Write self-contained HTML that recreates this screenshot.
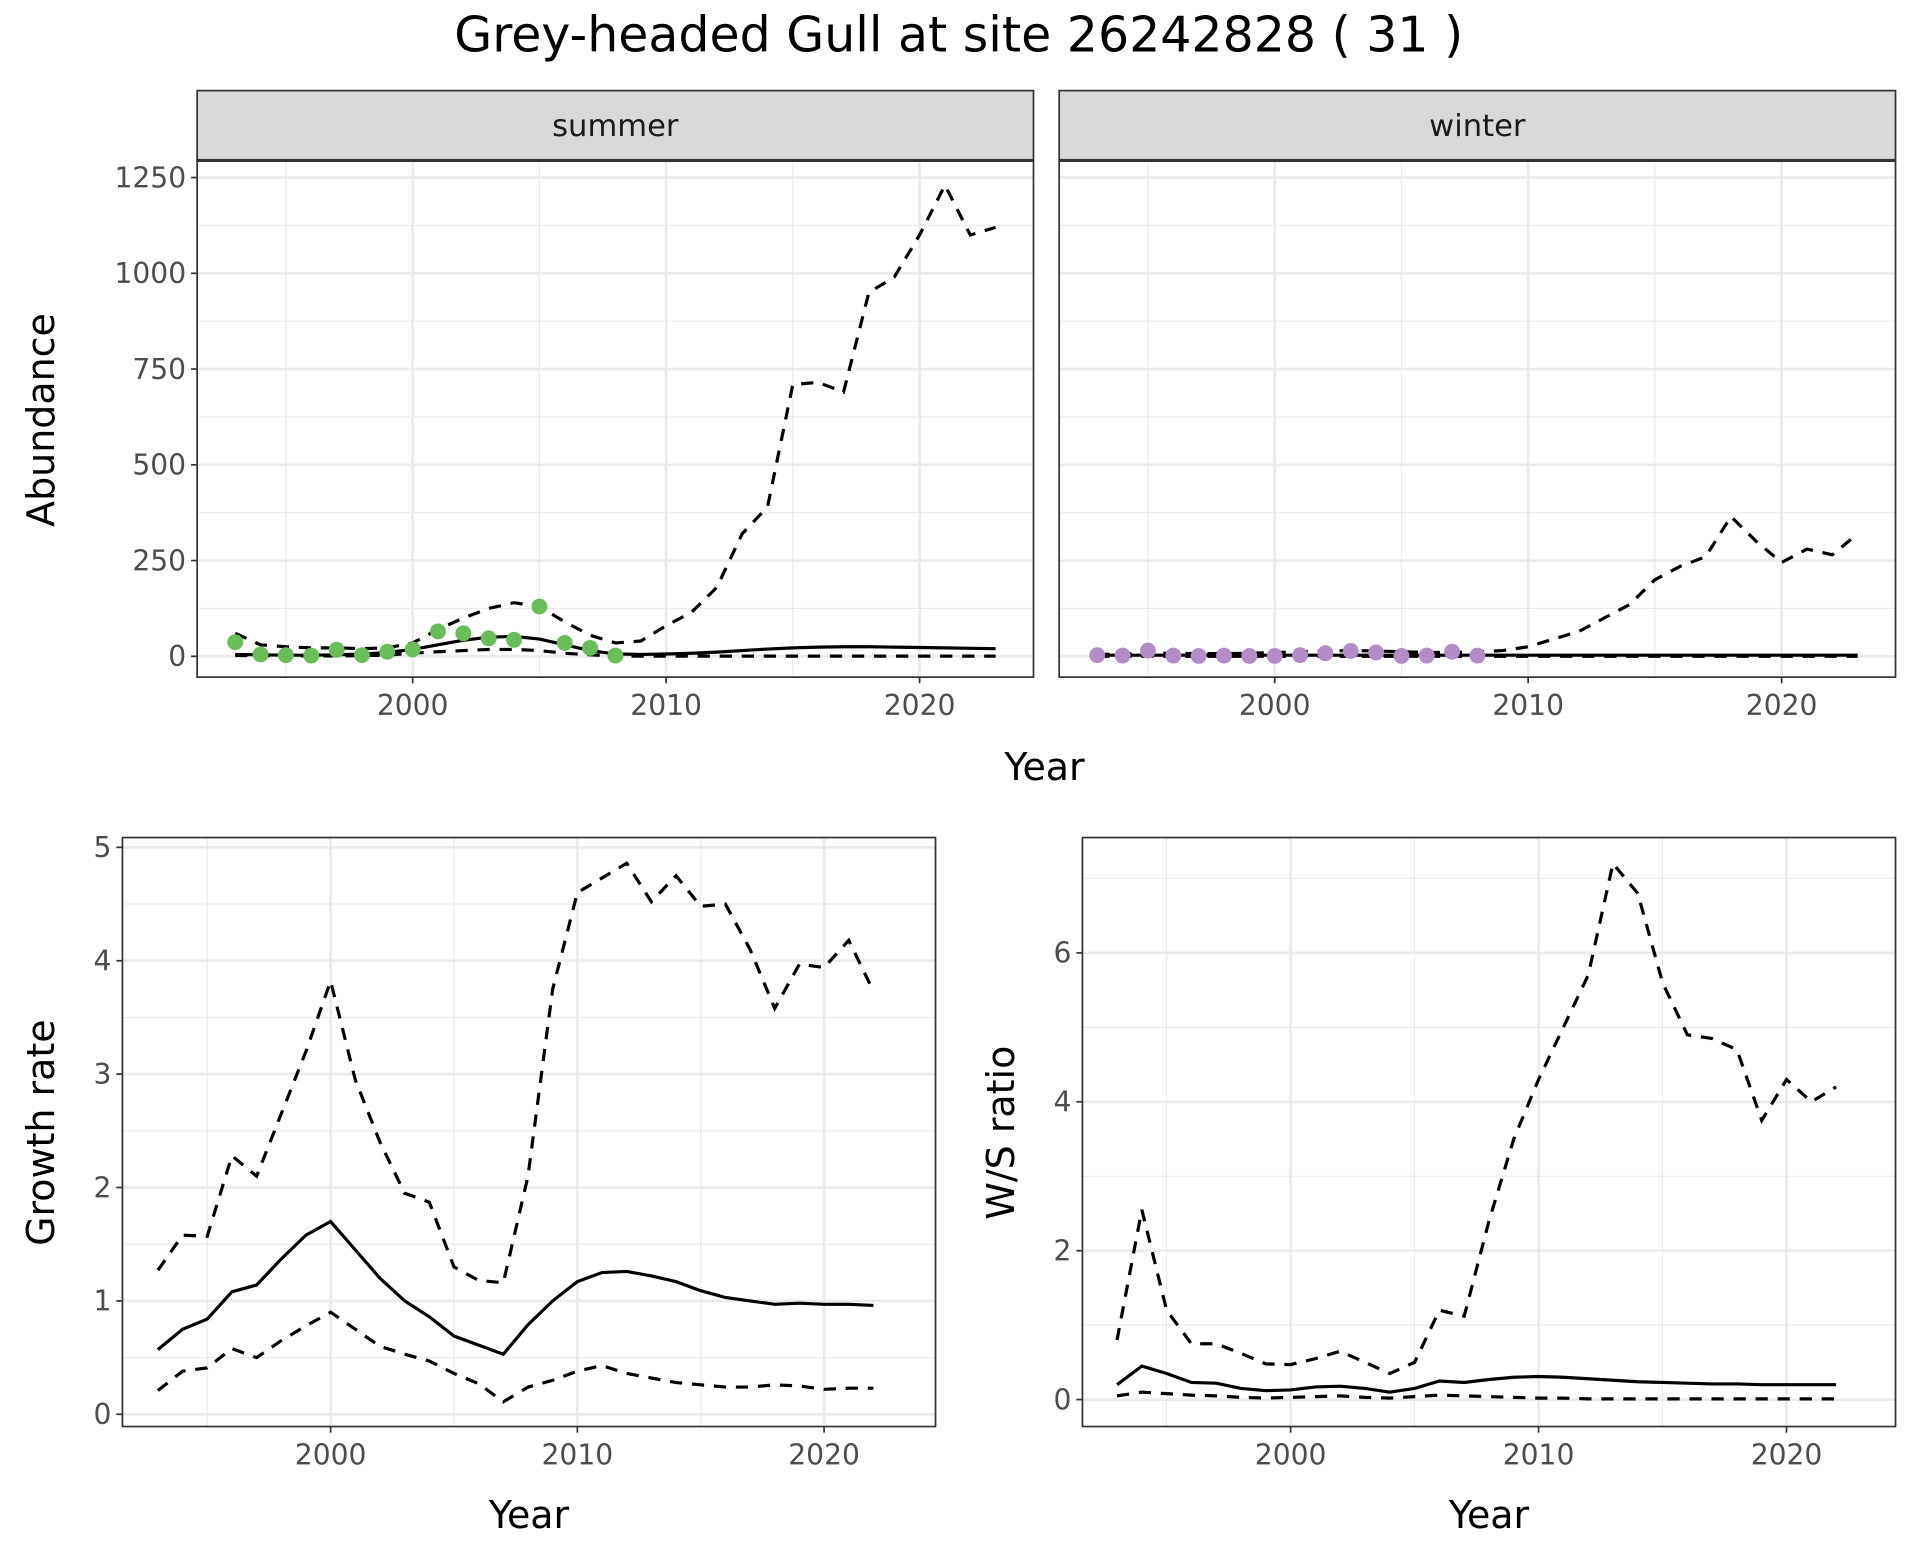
<!DOCTYPE html>
<html><head><meta charset="utf-8"><style>
html,body{margin:0;padding:0;background:#fff;}
svg{display:block;font-family:"DejaVu Sans","Liberation Sans",sans-serif;}
</style></head><body>
<svg id="fig" width="1920" height="1560" viewBox="0 0 1568 1274" preserveAspectRatio="none" xmlns="http://www.w3.org/2000/svg">
<text x="783" y="42" font-size="40" text-anchor="middle" fill="#000">Grey-headed Gull at site 26242828 ( 31 )</text>
</svg>
<script>
const years31 = [1993,1994,1995,1996,1997,1998,1999,2000,2001,2002,2003,2004,2005,2006,2007,2008,2009,2010,2011,2012,2013,2014,2015,2016,2017,2018,2019,2020,2021,2022,2023];
const obsYears = [1993,1994,1995,1996,1997,1998,1999,2000,2001,2002,2003,2004,2005,2006,2007,2008];
const summerObs = [37,5,3,2,17,3,12,18,65,60,47,43,130,35,22,2];
const summerMid = [5,4,3,3,4,6,10,18,30,42,50,52,45,30,15,6,5,6,8,11,15,19,22,24,25,25,24,23,22,21,20];
const summerHi = [60,30,25,22,22,20,22,35,70,100,125,140,130,90,55,35,40,80,115,180,320,390,710,715,690,950,990,1100,1230,1100,1120];
const summerLo = [2,2,1,1,1,2,3,8,12,15,18,18,15,8,4,1,0.5,0.5,0.5,0.5,0.5,0.5,0.5,0.5,0.5,0.5,0.5,0.5,0.5,0.5,0.5];
const winterObs = [3,2,15,2,1,2,1,1,3,8,14,10,1,2,12,2];
const winterMid = [3,3,3,3,3,3,3,3,3,3,3,3,3,3,3,3,3,3,3,3,3,3,3,3,3,3,3,3,3,3,3];
const winterHi = [5,6,8,8,7,7,8,10,12,14,15,14,12,10,10,12,15,25,45,65,100,135,200,235,260,365,300,245,280,265,320];
const winterLo = [0,0,0,0,0,0,0,0,0,0,0,0,0,0,0,0,0,0,0,0,0,0,0,0,0,0,0,0,0,0,0];
const years30 = [1993,1994,1995,1996,1997,1998,1999,2000,2001,2002,2003,2004,2005,2006,2007,2008,2009,2010,2011,2012,2013,2014,2015,2016,2017,2018,2019,2020,2021,2022];
const growthMid = [0.57,0.75,0.84,1.08,1.14,1.37,1.58,1.7,1.45,1.2,1.0,0.86,0.69,0.61,0.53,0.79,1.0,1.17,1.25,1.26,1.22,1.17,1.09,1.03,1.0,0.97,0.98,0.97,0.97,0.96];
const growthHi = [1.27,1.58,1.57,2.28,2.1,2.65,3.2,3.82,2.95,2.4,1.95,1.87,1.3,1.18,1.16,2.1,3.75,4.6,4.73,4.86,4.52,4.75,4.48,4.5,4.1,3.58,3.97,3.94,4.18,3.73];
const growthLo = [0.21,0.38,0.41,0.58,0.5,0.65,0.78,0.9,0.75,0.6,0.53,0.47,0.36,0.27,0.11,0.24,0.3,0.38,0.43,0.36,0.32,0.28,0.26,0.24,0.24,0.26,0.25,0.22,0.23,0.23];
const ratioMid = [0.2,0.45,0.35,0.23,0.22,0.15,0.12,0.13,0.17,0.18,0.15,0.1,0.15,0.25,0.23,0.27,0.3,0.31,0.3,0.28,0.26,0.24,0.23,0.22,0.21,0.21,0.2,0.2,0.2,0.2];
const ratioHi = [0.8,2.55,1.2,0.75,0.75,0.62,0.48,0.47,0.55,0.65,0.5,0.35,0.5,1.2,1.12,2.4,3.5,4.3,5.0,5.7,7.2,6.8,5.6,4.9,4.85,4.7,3.75,4.3,4.0,4.2];
const ratioLo = [0.05,0.1,0.08,0.06,0.05,0.03,0.02,0.03,0.04,0.05,0.03,0.02,0.04,0.06,0.05,0.04,0.03,0.02,0.02,0.01,0.01,0.01,0.01,0.01,0.01,0.01,0.01,0.01,0.01,0.01];
const abundTicks = [0,250,500,750,1000,1250];
const growthTicks = [0,1,2,3,4,5];
const ratioTicks = [0,2,4,6];
const yearTicks = [2000,2010,2020];

const NS="http://www.w3.org/2000/svg";
const svg=document.getElementById('fig');
function el(tag,attrs,parent){const e=document.createElementNS(NS,tag);for(const k in attrs)e.setAttribute(k,attrs[k]);(parent||svg).appendChild(e);return e;}

function panel(cfg){
  const g=el('g',{});
  
  
  const X=v=>cfg.x0+(v-2000)*cfg.xs;
  const Y=v=>cfg.y0-v*cfg.ys;
  el('rect',{x:cfg.l,y:cfg.t,width:cfg.r-cfg.l,height:cfg.b-cfg.t,fill:'#fff'},g);
  for(let i=0;i<cfg.yt.length-1;i++){const v=(cfg.yt[i]+cfg.yt[i+1])/2;el('line',{x1:cfg.l,x2:cfg.r,y1:Y(v),y2:Y(v),stroke:'#ebebeb','stroke-width':1},g);}
  const lastMinor=cfg.yt[cfg.yt.length-1]+(cfg.yt[1]-cfg.yt[0])/2; if(Y(lastMinor)>cfg.t) el('line',{x1:cfg.l,x2:cfg.r,y1:Y(lastMinor),y2:Y(lastMinor),stroke:'#ebebeb','stroke-width':1},g);
  [1995,2005,2015].forEach(v=>el('line',{x1:X(v),x2:X(v),y1:cfg.t,y2:cfg.b,stroke:'#ebebeb','stroke-width':1},g));
  cfg.yt.forEach(v=>el('line',{x1:cfg.l,x2:cfg.r,y1:Y(v),y2:Y(v),stroke:'#ebebeb','stroke-width':2.2},g));
  yearTicks.forEach(v=>el('line',{x1:X(v),x2:X(v),y1:cfg.t,y2:cfg.b,stroke:'#ebebeb','stroke-width':2.2},g));
  function line(xs,ys,dash,nm){const p=el('polyline',{points:xs.map((x,i)=>X(x)+','+Y(ys[i])).join(' '),fill:'none',stroke:'#000','stroke-width':2.6,'stroke-dasharray':dash||'none'},g);
    
    }
  line(cfg.xs_,cfg.hi,'10,8',cfg.name+'-upper-bound');
  line(cfg.xs_,cfg.lo,'10,8',cfg.name+'-lower-bound');
  line(cfg.xs_,cfg.mid,null,cfg.name+'-estimate');
  if(cfg.obs){cfg.obs.forEach((v,i)=>{const c=el('circle',{cx:X(obsYears[i]),cy:Y(v),r:6.5,fill:cfg.col},g);
    
    });}
  el('rect',{x:cfg.l,y:cfg.t,width:cfg.r-cfg.l,height:cfg.b-cfg.t,fill:'none',stroke:'#333','stroke-width':1.4},g);
  if(cfg.showY){cfg.yt.forEach(v=>{el('line',{x1:cfg.l-5,x2:cfg.l,y1:Y(v),y2:Y(v),stroke:'#333','stroke-width':1.4},g);
    const t=el('text',{x:cfg.l-9,y:Y(v)+8,'font-size':23,'text-anchor':'end',fill:'#4d4d4d'},g);t.textContent=v;
    
    });}
  yearTicks.forEach(v=>{el('line',{x1:X(v),x2:X(v),y1:cfg.b,y2:cfg.b+5,stroke:'#333','stroke-width':1.4},g);
    const t=el('text',{x:X(v),y:cfg.b+31,'font-size':23,'text-anchor':'middle',fill:'#4d4d4d'},g);t.textContent=v;
    
    });
  if(cfg.strip){el('rect',{x:cfg.l,y:74,width:cfg.r-cfg.l,height:57,fill:'#d9d9d9',stroke:'#333','stroke-width':1.4},g);
    el('line',{x1:cfg.l,x2:cfg.r,y1:131,y2:131,stroke:'#333','stroke-width':2.5},g);
    const t=el('text',{x:(cfg.l+cfg.r)/2,y:111,'font-size':25,'text-anchor':'middle',fill:'#1a1a1a'},g);t.textContent=cfg.strip;
    
    }
}
panel({name:'summer-panel',l:161,r:844,t:131,b:553,x0:337,xs:20.7,y0:536,ys:391/1250,yt:abundTicks,xs_:years31,mid:summerMid,hi:summerHi,lo:summerLo,obs:summerObs,col:'#6abd5a',showY:true,strip:'summer'});
panel({name:'winter-panel',l:865,r:1548,t:131,b:553,x0:1041,xs:20.7,y0:536,ys:391/1250,yt:abundTicks,xs_:years31,mid:winterMid,hi:winterHi,lo:winterLo,obs:winterObs,col:'#b48cc8',showY:false,strip:'winter'});
panel({name:'growth-panel',l:100,r:764,t:684,b:1165,x0:270,xs:20.15,y0:1155,ys:92.6,yt:growthTicks,xs_:years30,mid:growthMid,hi:growthHi,lo:growthLo,showY:true});
panel({name:'ratio-panel',l:884,r:1548,t:684,b:1165,x0:1054,xs:20.25,y0:1143,ys:60.8,yt:ratioTicks,xs_:years30,mid:ratioMid,hi:ratioHi,lo:ratioLo,showY:true});

function label(txt,x,y,rot,nm){const t=el('text',{x:x,y:y,'font-size':31,'text-anchor':'middle',fill:'#000',transform:rot?`rotate(-90 ${x} ${y})`:''});t.textContent=txt;
  
  }
label('Year',853,637,false,'x-axis-title-top');
label('Abundance',44,343,true,'y-axis-title-abundance');
label('Year',432,1248,false,'x-axis-title-growth');
label('Growth rate',44,925,true,'y-axis-title-growth');
label('Year',1216,1248,false,'x-axis-title-ratio');
label('W/S ratio',828,925,true,'y-axis-title-ratio');
</script>
</body></html>
